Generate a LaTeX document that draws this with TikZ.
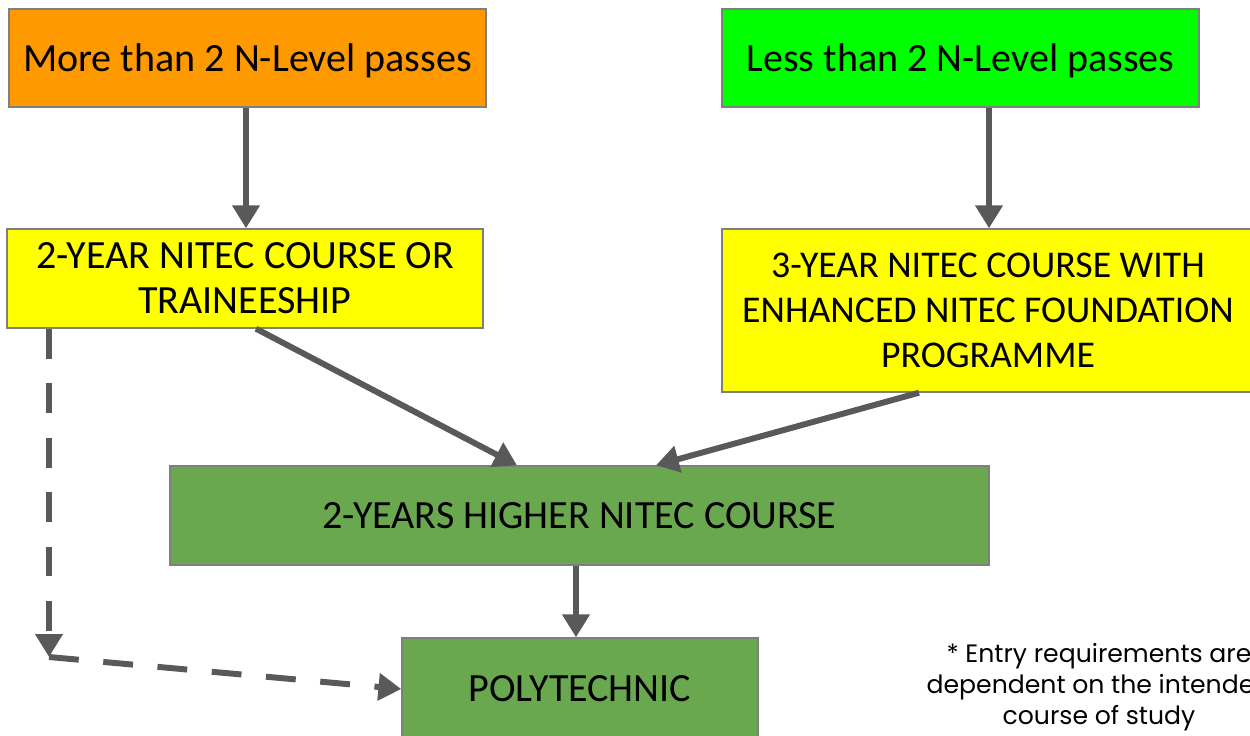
\documentclass[tikz,border=0pt]{standalone}
\usepackage{fontspec}
\setmainfont{Carlito}
\newfontfamily\notefont{Poppins}
\usetikzlibrary{arrows.meta}
\definecolor{cOrange}{HTML}{FF9900}
\definecolor{cLime}{HTML}{00FF00}
\definecolor{cYellow}{HTML}{FFFF00}
\definecolor{cGreen}{HTML}{6AA84F}
\definecolor{cArrow}{HTML}{595959}
\definecolor{cBorder}{HTML}{7F7F7F}
\tikzset{
  box/.style={draw=cBorder, line width=0.8pt, inner sep=0pt, align=center,
    font=\fontsize{22.8}{25.5}\selectfont},
  conn/.style={draw=cArrow, line width=3.4pt,
    -{Triangle[length=13pt,width=15pt]}},
  dconn/.style={conn, dash pattern=on 17pt off 14pt},
}
\begin{document}
\begin{tikzpicture}[x=0.02cm,y=-0.02cm]
\useasboundingbox (0,0) rectangle (1250,736);
\clip (0,0) rectangle (1250,736);
\node[box, text depth=0pt, fill=cOrange, minimum width=477*0.02cm, minimum height=98*0.02cm] (A) at (247.5,58) {More than 2 N-Level passes};
\node[box, text depth=0pt, fill=cLime, minimum width=477*0.02cm, minimum height=98*0.02cm] (B) at (960.5,58) {Less than 2 N-Level passes};
\node[box, fill=cYellow, minimum width=476*0.02cm, minimum height=99*0.02cm] (C) at (245,278.5) {2-YEAR NITEC COURSE OR\\TRAINEESHIP};
\node[box, font=\fontsize{21.5}{25.5}\selectfont, fill=cYellow, minimum width=532*0.02cm, minimum height=163*0.02cm] (D) at (988,310.5) {3-YEAR NITEC COURSE WITH\\ENHANCED NITEC FOUNDATION\\PROGRAMME};
\node[box, fill=cGreen, minimum width=819*0.02cm, minimum height=99*0.02cm] (E) at (579.5,515.5) {2-YEARS HIGHER NITEC COURSE};
\node[box, fill=cGreen, minimum width=356*0.02cm, minimum height=102*0.02cm] (F) at (580,689) {POLYTECHNIC};
\node[align=center, inner sep=0pt, font=\notefont\fontsize{14.3}{17.6}\selectfont] (N) at (1099,687) {* Entry requirements are\\dependent on the intended\\course of study};
\coordinate (K) at (49,657);
\draw[conn] (A.south -| 246,0) -- (C.north -| 246,0);
\draw[conn] (B.south -| 989,0) -- (D.north -| 989,0);
\draw[conn] (C.south -| 256,0) -- (E.north -| 517,0);
\draw[conn] (D.south -| 919,0) -- (E.north -| 656,0);
\draw[conn] (E.south -| 576,0) -- (F.north -| 576,0);
\draw[dconn] (C.south -| 49,0) -- (K);
\draw[dconn] (K) -- (F.west);
\end{tikzpicture}
\end{document}
